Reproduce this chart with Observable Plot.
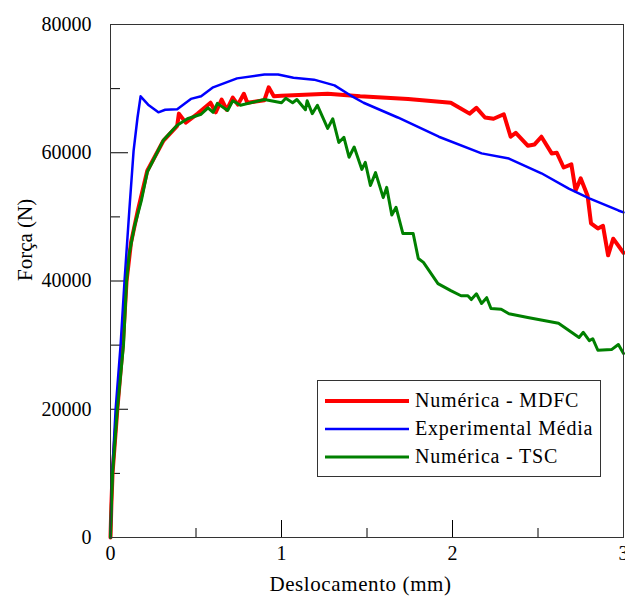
<!DOCTYPE html>
<html><head><meta charset="utf-8">
<script src="https://cdn.jsdelivr.net/npm/d3@7"></script>
<script src="https://cdn.jsdelivr.net/npm/@observablehq/plot@0.6"></script>
<style>
body{margin:0;background:#fff;font-family:'Liberation Serif', serif;}
#chart{position:relative;width:625px;height:596px;}
#xtitle{position:absolute;left:104px;top:572px;width:513px;text-align:center;font-family:'Liberation Serif', serif;font-size:21px;line-height:24px;letter-spacing:0.6px;color:#000;z-index:2;}
</style>
</head><body><div id="chart"><div id="xtitle">Deslocamento (mm)</div></div>
<script>
// Numérica - MDFC
const mdfcX = [0, 0.005, 0.012, 0.04, 0.072, 0.094, 0.12, 0.16, 0.215, 0.31, 0.39, 0.40, 0.44, 0.51, 0.585, 0.615, 0.65, 0.68, 0.715, 0.745, 0.78, 0.80, 0.90, 0.925, 0.955, 1.0, 1.27, 1.46, 1.74, 1.99, 2.10, 2.14, 2.19, 2.24, 2.30, 2.34, 2.37, 2.44, 2.48, 2.52, 2.58, 2.61, 2.65, 2.695, 2.72, 2.75, 2.79, 2.81, 2.85, 2.88, 2.91, 2.94, 3.0];
const mdfcF = [0, 5000, 10000, 20000, 30000, 40000, 46000, 51000, 57200, 61900, 64200, 66100, 64700, 66100, 67800, 66300, 68300, 66700, 68600, 67500, 69200, 67800, 68200, 70200, 68800, 68900, 69200, 68800, 68400, 67800, 66100, 67000, 65500, 65300, 66000, 62500, 63100, 61100, 61300, 62500, 59900, 60000, 57700, 58200, 54100, 56000, 53300, 49000, 48200, 48600, 44000, 46600, 44400];
// Experimental Média
const expX = [0, 0.01, 0.03, 0.059, 0.082, 0.11, 0.135, 0.158, 0.176, 0.22, 0.28, 0.32, 0.39, 0.47, 0.53, 0.60, 0.74, 0.90, 0.98, 1.07, 1.19, 1.31, 1.40, 1.48, 1.68, 1.92, 2.17, 2.33, 2.52, 2.68, 2.80, 2.97, 3.0];
const expF = [0, 10000, 20000, 30000, 40000, 51000, 60300, 65500, 68800, 67500, 66300, 66700, 66800, 68400, 68800, 70200, 71600, 72200, 72200, 71700, 71400, 70500, 69000, 67800, 65500, 62500, 59900, 59100, 56800, 54400, 52900, 51000, 50700];
// Numérica - TSC
const tscX = [0, 0.005, 0.012, 0.04, 0.076, 0.094, 0.11, 0.14, 0.18, 0.215, 0.31, 0.39, 0.45, 0.53, 0.57, 0.60, 0.625, 0.685, 0.715, 0.76, 0.90, 1.0, 1.025, 1.065, 1.09, 1.14, 1.15, 1.18, 1.21, 1.27, 1.30, 1.335, 1.365, 1.395, 1.425, 1.47, 1.49, 1.52, 1.55, 1.595, 1.615, 1.645, 1.67, 1.71, 1.77, 1.80, 1.83, 1.915, 1.99, 2.05, 2.09, 2.11, 2.14, 2.17, 2.20, 2.225, 2.285, 2.33, 2.44, 2.62, 2.74, 2.765, 2.80, 2.82, 2.85, 2.93, 2.97, 3.0];
const tscF = [0, 5000, 10000, 20000, 30000, 40000, 44300, 48500, 52500, 57000, 62000, 64300, 65300, 66000, 67000, 66300, 67700, 66600, 68100, 67400, 68300, 67800, 68500, 67800, 68300, 66700, 68100, 66100, 67400, 63800, 65300, 61600, 62400, 59300, 60900, 57400, 58500, 54900, 56900, 53000, 54600, 50300, 51500, 47400, 47400, 43500, 42900, 39600, 38500, 37700, 37700, 37100, 38000, 36500, 37400, 35700, 35600, 34900, 34300, 33400, 31200, 32000, 30700, 31000, 29200, 29300, 30100, 28700];

const seriesNames = ["Numérica - MDFC", "Experimental Média", "Numérica - TSC"];
const seriesColors = ["#ff0000", "#0000ff", "#008000"];
const xMajor = [0, 1, 2, 3];
const xMinor = [0.5, 1.5, 2.5];
const yMajor = [0, 20000, 40000, 60000, 80000];
const yMinor = [10000, 30000, 50000, 70000];
const yLabel = "Força (N)";

const toRows = (xs, ys) => xs.map((x, i) => ({x, y: ys[i]}));
const mdfc = toRows(mdfcX, mdfcF);
const exp = toRows(expX, expF);
const tsc = toRows(tscX, tscF);

const W = 625, H = 596, mL = 110, mR = 2, mT = 24, mB = 59;
const innerW = W - mL - mR, innerH = H - mT - mB;
const font = "Liberation Serif";

const plot = Plot.plot({
  width: W, height: H,
  marginLeft: mL, marginRight: mR, marginTop: mT, marginBottom: mB,
  style: {fontFamily: font, fontSize: "19px", color: "black", background: "white", overflow: "visible"},
  x: {domain: [0, 3]},
  y: {domain: [0, 80000]},
  marks: [
    Plot.tickX(xMajor, {x: d => d, insetTop: innerH - 17, stroke: "black"}),
    Plot.tickX(xMinor, {x: d => d, insetTop: innerH - 9, stroke: "black"}),
    Plot.tickY(yMajor, {y: d => d, insetRight: innerW - 18, stroke: "black"}),
    Plot.tickY(yMinor, {y: d => d, insetRight: innerW - 10, stroke: "black"}),
    Plot.axisX(xMajor, {tickSize: 0, tickPadding: 8, fontSize: 20, fontFamily: font, label: null, tickFormat: d => String(d)}),
    Plot.axisY(yMajor, {tickSize: 0, tickPadding: 19, fontSize: 20, fontFamily: font, label: null, tickFormat: d => String(d)}),
    Plot.text([yLabel], {text: d => d, frameAnchor: "left", dx: -85, rotate: -90, fontSize: 21, fontFamily: font}),
    Plot.line(mdfc, {x: "x", y: "y", stroke: seriesColors[0], strokeWidth: 4, strokeLinejoin: "round"}),
    Plot.line(exp, {x: "x", y: "y", stroke: seriesColors[1], strokeWidth: 2.5, strokeLinejoin: "round"}),
    Plot.line(tsc, {x: "x", y: "y", stroke: seriesColors[2], strokeWidth: 3, strokeLinejoin: "round"}),
    Plot.frame({stroke: "#333"})
  ]
});

// legend inside the plot area
const svg = d3.select(plot);
const lg = svg.append("g").attr("font-family", font).attr("font-size", 20).attr("text-anchor", "start");
lg.append("rect").attr("x", 317.5).attr("y", 380.5).attr("width", 283).attr("height", 96)
  .attr("fill", "white").attr("stroke", "#333").attr("stroke-width", 1);
const lineW = [4, 2.5, 3];
seriesNames.forEach((name, i) => {
  const yy = 401 + i * 28;
  lg.append("line").attr("x1", 325).attr("x2", 409).attr("y1", yy).attr("y2", yy)
    .attr("stroke", seriesColors[i]).attr("stroke-width", lineW[i]);
  lg.append("text").attr("x", 415).attr("y", yy).attr("dy", "0.32em")
    .attr("fill", "black").attr("letter-spacing", 0.8).text(name);
});

document.getElementById("chart").prepend(plot);
</script>
</body></html>
